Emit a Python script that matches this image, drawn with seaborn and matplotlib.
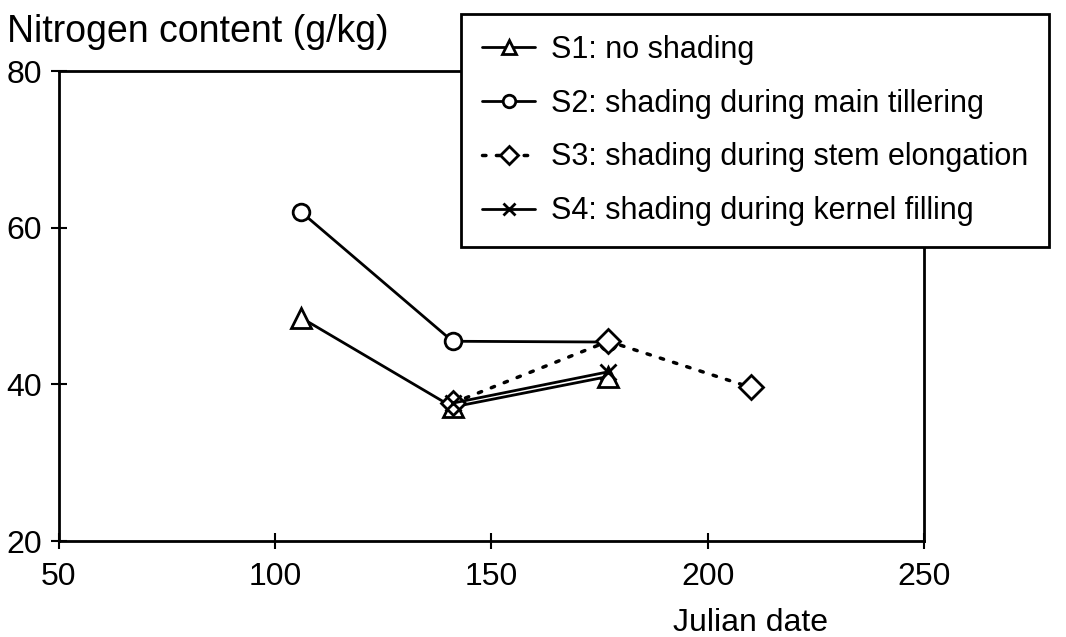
import matplotlib
matplotlib.use("Agg")
import matplotlib.pyplot as plt
import seaborn as sns
import pandas as pd

# Data
s1_x = [106, 141, 177]
s1_y = [48.5, 37.1, 41.0]
s2_x = [106, 141, 177]
s2_y = [62.0, 45.5, 45.4]
s3_x = [141, 177, 210]
s3_y = [37.6, 45.5, 39.6]
s4_x = [141, 177]
s4_y = [37.6, 41.6]

labels = ["S1: no shading",
          "S2: shading during main tillering",
          "S3: shading during stem elongation",
          "S4: shading during kernel filling"]

x_ticks = [50, 100, 150, 200, 250]
y_ticks = [20, 40, 60, 80]

sns.set_theme(style="white")
plt.rcParams['font.family'] = ['Liberation Sans', 'DejaVu Sans']
plt.rcParams['text.color'] = 'black'

FS = 23

fig = plt.figure(figsize=(10.66, 6.37), dpi=100)
ax = fig.add_axes([0.0553, 0.1507, 0.8115, 0.7378])

series = [
    (s1_x, s1_y, labels[0], '^', '-', 14),
    (s2_x, s2_y, labels[1], 'o', '-', 12),
    (s3_x, s3_y, labels[2], 'D', ':', 12),
    (s4_x, s4_y, labels[3], 'x', '-', 12),
]
for xs, ys, lab, mk, ls, ms in series:
    df = pd.DataFrame({"x": xs, "y": ys})
    kw = dict(marker=mk, markersize=ms, markeredgecolor='black',
              markeredgewidth=2.0, color='black', linewidth=2.0, label=lab)
    if mk != 'x':
        kw['markerfacecolor'] = 'white'
    sns.lineplot(data=df, x="x", y="y", ax=ax, **kw)
lines = ax.get_lines()
lines[2].set_linestyle((0, (1, 3)))
lines[2].set_dash_capstyle('round')
lines[2].set_linewidth(2.5)

ax.set_xlim(50, 250)
ax.set_ylim(20, 80)
ax.set_xticks(x_ticks)
ax.set_yticks(y_ticks)
ax.tick_params(bottom=True, left=True, direction='inout', length=12, width=1.5,
               labelsize=FS, colors='black')
ax.tick_params(axis='x', pad=9)
ax.tick_params(axis='y', pad=6)
for sp in ax.spines.values():
    sp.set_color('black')
    sp.set_linewidth(2.0)
ax.set_xlabel("")
ax.set_ylabel("")

fig.text(0.007, 0.949, "Nitrogen content (g/kg)", fontsize=27, ha='left',
         va='center', color='black')
fig.text(0.704, 0.022, "Julian date", fontsize=FS, ha='center', va='center',
         color='black')

leg = ax.legend(loc='upper left', bbox_to_anchor=(0.4325, 0.978),
                bbox_transform=fig.transFigure, borderaxespad=0,
                fontsize=22, frameon=True, fancybox=False, handlelength=1.75,
                handletextpad=0.5, labelspacing=0.78, borderpad=0.68,
                markerscale=0.75)
leg.get_frame().set_edgecolor('black')
leg.get_frame().set_linewidth(2.0)
leg.get_frame().set_alpha(1)
leg.set_zorder(10)
for t in leg.get_texts():
    t.set_color('black')

fig.savefig("out.png", dpi=100)
